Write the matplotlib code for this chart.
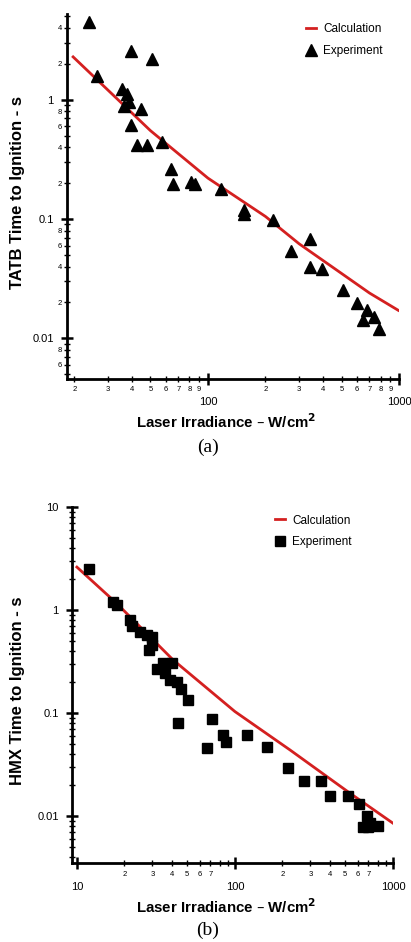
import math
import matplotlib
matplotlib.use('Agg')
from matplotlib import pyplot as plt
from matplotlib.ticker import LogLocator, FuncFormatter, NullFormatter

plt.rcParams['font.family'] = ['Liberation Sans', 'DejaVu Sans']

# (a) TATB
tatb_x = [23.9, 26.3, 39.5, 51.1, 35.5, 37.8, 36.3, 38.7, 44.6, 39.5, 42.3, 47.8,
          57.6, 64.3, 65.8, 81.5, 85.5, 117, 155, 155, 220, 272, 342, 342, 394,
          511, 605, 677, 651, 742, 789]
tatb_y = [4.45, 1.58, 2.53, 2.17, 1.23, 1.12, 0.886, 0.95, 0.837, 0.615, 0.414, 0.414,
          0.441, 0.26, 0.196, 0.205, 0.195, 0.177, 0.111, 0.12, 0.098, 0.0544, 0.068,
          0.040, 0.038, 0.0256, 0.0198, 0.0172, 0.0142, 0.0152, 0.0120]
tatb_calc_x = [19.7, 30, 50, 100, 200, 300, 500, 700, 990]
tatb_calc_y = [2.28, 1.2, 0.55, 0.22, 0.105, 0.062, 0.035, 0.024, 0.0172]

# (b) HMX
hmx_x = [11.97, 16.8, 18.0, 21.6, 22.2, 25.0, 27.6, 29.7, 29.7, 28.7, 31.9, 35.2, 39.7,
         36.1, 38.8, 42.8, 45.5, 50.6, 43.8, 71.8, 66.2, 83.6, 87.7, 119.7, 158.7,
         217, 273, 349, 399, 521, 612, 682, 649, 715, 800, 700]
hmx_y = [2.48, 1.19, 1.12, 0.80, 0.689, 0.616, 0.572, 0.55, 0.457, 0.409, 0.266, 0.304,
         0.304, 0.243, 0.209, 0.201, 0.170, 0.134, 0.0794, 0.0869, 0.0454, 0.0611,
         0.0527, 0.061, 0.0465, 0.029, 0.022, 0.022, 0.0156, 0.0156, 0.0131, 0.0099,
         0.0078, 0.0085, 0.008, 0.0078]
hmx_calc_x = [10, 17.8, 40.6, 100, 223, 535, 1000]
hmx_calc_y = [2.6, 1.16, 0.327, 0.103, 0.0437, 0.0166, 0.0085]

red = '#d42020'
fig = plt.figure(figsize=(4.11, 9.42), dpi=100)


def minor_fmt(keep):
    def f(v, pos):
        m = int(round(v / 10 ** math.floor(math.log10(v) + 1e-9)))
        return str(m) if m in keep else ''
    return FuncFormatter(f)


def style(ax):
    for s in ['top', 'right']:
        ax.spines[s].set_visible(False)
    for s in ['left', 'bottom']:
        ax.spines[s].set_linewidth(2)
    ax.set_xscale('log')
    ax.set_yscale('log')
    ax.tick_params(which='major', direction='inout', length=9, width=1.8, labelsize=8)
    ax.tick_params(which='minor', direction='inout', length=5, width=1, labelsize=5.5)
    ax.tick_params(axis='x', which='major', pad=9)
    ax.tick_params(axis='x', which='minor', pad=3)
    ax.tick_params(axis='y', which='major', pad=5)
    ax.tick_params(axis='y', which='minor', pad=1)
    ax.xaxis.set_major_locator(LogLocator(base=10))
    ax.yaxis.set_major_locator(LogLocator(base=10))
    ax.xaxis.set_minor_locator(LogLocator(base=10, subs=range(2, 10)))
    ax.yaxis.set_minor_locator(LogLocator(base=10, subs=range(2, 10)))
    ax.xaxis.set_major_formatter(FuncFormatter(lambda v, p: '%g' % v))
    ax.yaxis.set_major_formatter(FuncFormatter(lambda v, p: '%g' % v))
    ax.set_xlabel('Laser Irradiance – W/cm$^\\mathbf{2}$', fontsize=10.8, fontweight='bold')


# panel (a)
ax1 = fig.add_axes([0.163, 0.598, 0.808, 0.387])
style(ax1)
ax1.plot(tatb_calc_x, tatb_calc_y, color=red, lw=2, label='Calculation')
ax1.plot(tatb_x, tatb_y, '^', color='black', ms=8, label='Experiment')
ax1.set_xlim(18.3, 1000)
ax1.set_ylim(0.0046, 5.2)
ax1.xaxis.set_minor_formatter(minor_fmt(range(2, 10)))
ax1.yaxis.set_minor_formatter(minor_fmt([2, 4, 6, 8]))
ax1.set_ylabel('TATB Time to Ignition - s', fontsize=12, fontweight='bold')
ax1.yaxis.set_label_coords(-0.127, 0.512)
ax1.xaxis.set_label_coords(0.479, -0.093)
ax1.legend(loc='upper left', bbox_to_anchor=(0.72, 0.975), frameon=False, fontsize=8.5,
           handlelength=0.85, handletextpad=0.6, labelspacing=0.8,
           borderpad=0, borderaxespad=0)
fig.text(0.505, 0.5255, '(a)', family='Liberation Serif', fontsize=14, ha='center', va='center')

# panel (b)
ax2 = fig.add_axes([0.175, 0.084, 0.781, 0.378])
style(ax2)
ax2.plot(hmx_calc_x, hmx_calc_y, color=red, lw=2, label='Calculation')
ax2.plot(hmx_x, hmx_y, 's', color='black', ms=6.5, label='Experiment')
ax2.set_xlim(9.3, 1000)
ax2.set_ylim(0.0035, 10)
ax2.xaxis.set_minor_formatter(minor_fmt(range(2, 8)))
ax2.yaxis.set_minor_formatter(NullFormatter())
ax2.set_ylabel('HMX Time to Ignition - s', fontsize=12, fontweight='bold')
ax2.yaxis.set_label_coords(-0.146, 0.483)
ax2.xaxis.set_label_coords(0.482, -0.098)
ax2.legend(loc='upper left', bbox_to_anchor=(0.632, 0.978), frameon=False, fontsize=8.5,
           handlelength=0.85, handletextpad=0.6, labelspacing=0.8,
           borderpad=0, borderaxespad=0)
fig.text(0.505, 0.0127, '(b)', family='Liberation Serif', fontsize=14, ha='center', va='center')

fig.savefig('out.png', dpi=100)
